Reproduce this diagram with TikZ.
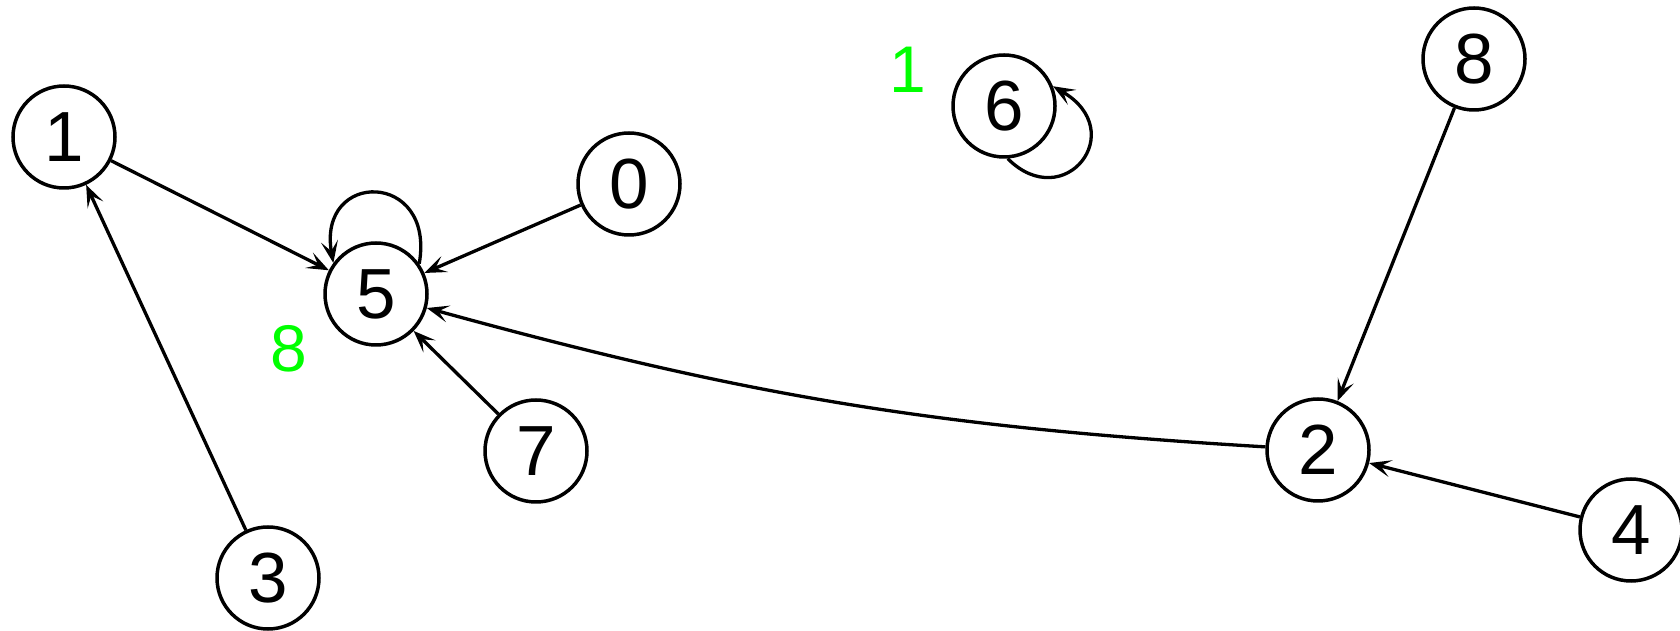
\documentclass[tikz,border=0pt]{standalone}
\usepackage{fontspec}
\setmainfont{Liberation Sans}
\usetikzlibrary{arrows.meta}
\definecolor{lbl}{RGB}{0,255,0}
\tikzset{
  vert/.style={circle,draw=black,line width=3.5pt,minimum size=102pt,inner sep=0pt,font=\fontsize{71}{71}\selectfont},
  glabel/.style={text=lbl,inner sep=0pt,font=\fontsize{66}{66}\selectfont},
  arr/.style={line width=3.3pt,-{Stealth[length=22pt,width=17pt,inset=10pt]}},
  plain/.style={line width=3.3pt}
}
\begin{document}
\begin{tikzpicture}[x=1pt,y=1pt]
\useasboundingbox (0,0) rectangle (1680,631);
\node[vert] (n0) at (629,447) {0};
\node[vert] (n1) at (64,494) {1};
\node[vert] (n2) at (1318,181) {2};
\node[vert] (n3) at (268,53) {3};
\node[vert] (n4) at (1631,101) {4};
\node[vert] (n5) at (376,337) {5};
\node[vert] (n6) at (1004,525) {6};
\node[vert] (n7) at (536,180) {7};
\node[vert] (n8) at (1474,572) {8};
\node[glabel] (g1) at (908,561) {1};
\node[glabel] (g8) at (289,282) {8};
\draw[arr] (n1) -- (n5);
\draw[arr] (n0) -- (n5);
\draw[arr] (n3) -- (n1);
\draw[arr] (n7) -- (n5);
\draw[arr] (n2) to[bend left=6] (n5);
\draw[arr] (n8) -- (n2);
\draw[arr] (n4) -- (n2);
\draw[arr] (n5.35) .. controls +(80:95) and +(100:95) .. (n5.144);
\draw[arr] (n6.-86) .. controls +(-45:80) and +(-30:90) .. (n6.22);
\end{tikzpicture}
\end{document}
